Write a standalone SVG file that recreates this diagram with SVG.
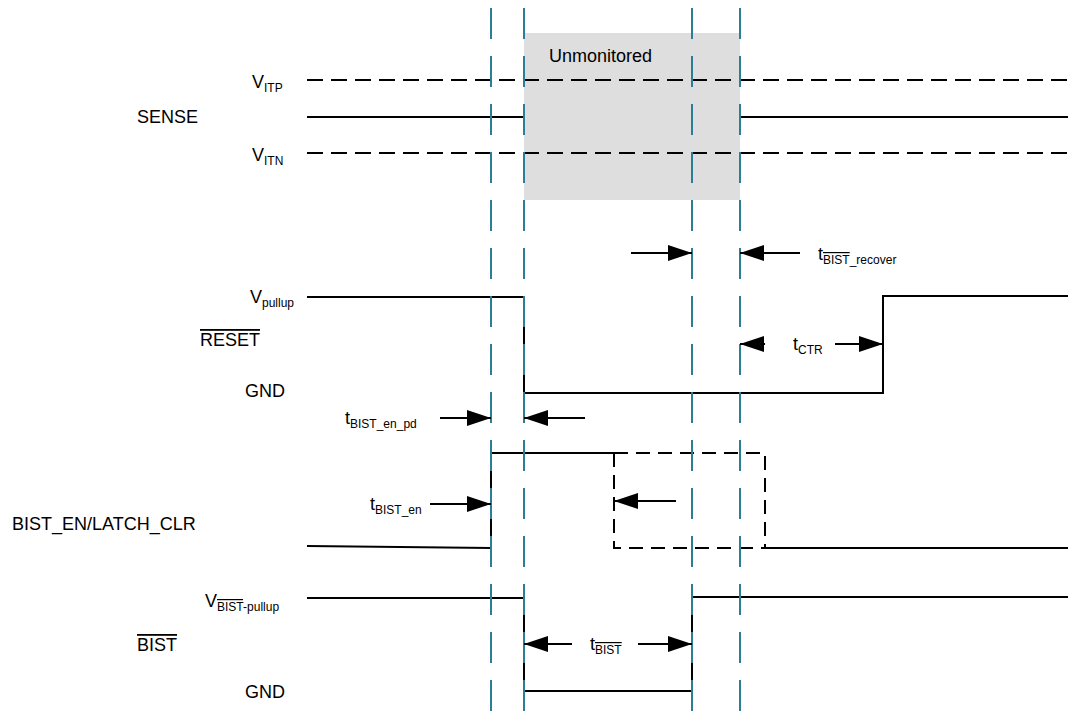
<svg xmlns="http://www.w3.org/2000/svg" width="1068" height="711" viewBox="0 0 1068 711">
<defs>
<style>
text{font-family:"Liberation Sans",Arial,sans-serif;font-size:18px;fill:#000}
.sub{font-size:12px}
.sig{fill:none;stroke:#000;stroke-width:2}
.thr{fill:none;stroke:#000;stroke-width:2;stroke-dasharray:16 8}
.box{fill:none;stroke:#000;stroke-width:2;stroke-dasharray:14 8}
.grid{fill:none;stroke:#2a7f96;stroke-width:2;stroke-dasharray:31 17}
.arr{fill:none;stroke:#000;stroke-width:2;marker-end:url(#ah)}
</style>
<marker id="ah" markerUnits="userSpaceOnUse" markerWidth="26" markerHeight="18" refX="24" refY="8" orient="auto">
<path d="M0,0 L24,8 L0,16 z" fill="#000"/>
</marker>
</defs>
<rect width="1068" height="711" fill="#fff"/>

<g id="unmonitored">
<rect x="524" y="33" width="216" height="167" fill="#dedede"/>
<text x="549" y="62">Unmonitored</text>
</g>

<g id="sense">
<path class="thr" d="M307,80 H1068"/>
<path class="sig" d="M307,117 H524 M740,117 H1068"/>
<path class="thr" d="M307,153 H1068"/>
<text x="252" y="88">V<tspan class="sub" dy="4">ITP</tspan></text>
<text x="137" y="123">SENSE</text>
<text x="252" y="161">V<tspan class="sub" dy="4">ITN</tspan></text>
</g>

<g id="reset">
<path class="sig" d="M307,297 H524 V393 H883 V296 H1068"/>
<text x="250" y="303">V<tspan class="sub" dy="4">pullup</tspan></text>
<text x="200" y="346" text-decoration="overline">RESET</text>
<text x="245" y="397">GND</text>
</g>

<g id="bist_en">
<path class="sig" d="M307,546 L491,548 V453 H614"/>
<path class="box" d="M614,453 H765 V548 M614,453 V548 H765"/>
<path class="sig" d="M765,548 H1068"/>
<text x="12" y="530">BIST_EN/LATCH_CLR</text>
</g>

<g id="bist">
<path class="sig" d="M307,598 H524 V691 H692 V597 H1068"/>
<text x="205" y="607">V<tspan class="sub" dy="4" text-decoration="overline">BIST</tspan><tspan class="sub">-pullup</tspan></text>
<text x="137" y="651" text-decoration="overline">BIST</text>
<text x="245" y="698">GND</text>
</g>

<g id="grid">
<path class="grid" d="M491,8 V711 M524,8 V711 M692,8 V711 M740,8 V711"/>
</g>

<g id="connectors">
<path class="arr" d="M631,253 H692"/>
<path class="arr" d="M800,253 H740"/>
<text x="818" y="260">t<tspan class="sub" dy="4" text-decoration="overline">BIST</tspan><tspan class="sub">_recover</tspan></text>
<path class="arr" d="M765,344 H740"/>
<path class="arr" d="M835,344 H883"/>
<text x="793" y="350">t<tspan class="sub" dy="4">CTR</tspan></text>
<path class="arr" d="M440,418 H491"/>
<path class="arr" d="M585,418 H524"/>
<text x="345" y="424">t<tspan class="sub" dy="4">BIST_en_pd</tspan></text>
<path class="arr" d="M430,504 H491"/>
<text x="370" y="510">t<tspan class="sub" dy="4">BIST_en</tspan></text>
<path class="arr" d="M676,501 H614"/>
<path class="arr" d="M572,644 H524"/>
<path class="arr" d="M638,644 H692"/>
<text x="590" y="650">t<tspan class="sub" dy="4" text-decoration="overline">BIST</tspan></text>
</g>
</svg>
